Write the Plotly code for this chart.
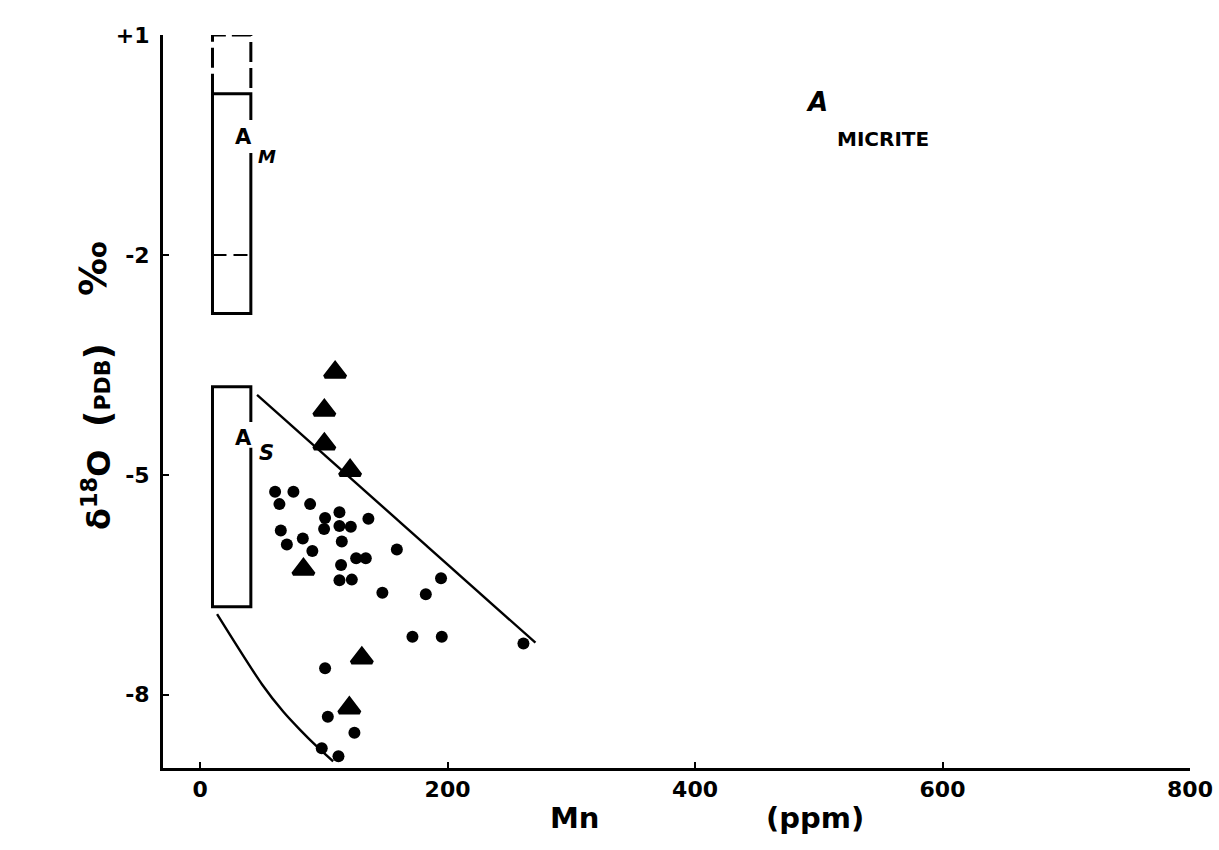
import plotly.graph_objects as go

# ---------------- data ----------------
circle_mn = [60.6, 75.4, 64.1, 88.9, 101.0, 112.6, 100.2, 112.6, 121.8, 136.0,
             65.2, 83.0, 70.1, 114.5, 90.7, 159.0, 126.1, 133.9, 113.9, 112.6,
             122.6, 147.3, 194.7, 182.4, 171.6, 195.3, 261.3, 101.0, 103.2,
             124.7, 98.3, 111.8]
circle_d18o = [-5.23, -5.23, -5.40, -5.40, -5.59, -5.51, -5.74, -5.70, -5.71, -5.60,
               -5.76, -5.87, -5.95, -5.91, -6.04, -6.02, -6.14, -6.14, -6.23, -6.44,
               -6.43, -6.61, -6.41, -6.63, -7.21, -7.21, -7.30, -7.64, -8.30,
               -8.52, -8.73, -8.84]

tri_mn = [109.1, 100.4, 100.4, 121.2, 83.5, 130.7, 120.6]
tri_d18o = [-3.60, -4.12, -4.58, -4.94, -6.29, -7.50, -8.18]

upper_line_mn = [46.0, 271.0]
upper_line_d18o = [-3.91, -7.29]

lower_curve_mn = [13.7, 50.1, 67.1, 80.8, 94.5, 107.5]
lower_curve_d18o = [-6.90, -7.86, -8.23, -8.48, -8.71, -8.91]

box_mn = [10, 41]                 # left / right edge of both boxes
am_box = [0.2, -2.8]              # A_M solid box top / bottom
am_dashed_top = 1.0               # dashed extension top
am_gap = [-0.16, -0.61]           # gap in right edge for label
am_mid_dash = -2.0                # dashed line across A_M
as_box = [-3.8, -6.8]             # A_S box top / bottom
as_gap = [-4.28, -4.63]

x_ticks = [0, 200, 400, 600, 800]
y_ticks = [1, -2, -5, -8]
y_ticktext = ["+1", "-2", "-5", "-8"]
x_range = [-30, 800]
y_range = [-9, 1]

FONT = "DejaVu Sans"

fig = go.Figure()


def box_path(x0, x1, top, bottom, gap_hi, gap_lo):
    xs = [x1, x1, x0, x0, x1, x1]
    ys = [gap_hi, top, top, bottom, bottom, gap_lo]
    return xs, ys


# A_M solid box
xs, ys = box_path(box_mn[0], box_mn[1], am_box[0], am_box[1], am_gap[0], am_gap[1])
fig.add_trace(go.Scatter(x=xs, y=ys, mode="lines",
                         line=dict(color="black", width=3), hoverinfo="skip"))
# A_M dashed extension
fig.add_trace(go.Scatter(x=[box_mn[0], box_mn[0], box_mn[1], box_mn[1]],
                         y=[am_box[0], am_dashed_top, am_dashed_top, am_box[0]],
                         mode="lines",
                         line=dict(color="black", width=3, dash="20px,6px"),
                         hoverinfo="skip"))
# dashed line at -2 inside A_M
fig.add_trace(go.Scatter(x=box_mn, y=[am_mid_dash, am_mid_dash], mode="lines",
                         line=dict(color="black", width=2, dash="14px,7px"),
                         hoverinfo="skip"))
# A_S box
xs, ys = box_path(box_mn[0], box_mn[1], as_box[0], as_box[1], as_gap[0], as_gap[1])
fig.add_trace(go.Scatter(x=xs, y=ys, mode="lines",
                         line=dict(color="black", width=3), hoverinfo="skip"))

# envelope lines
fig.add_trace(go.Scatter(x=upper_line_mn, y=upper_line_d18o, mode="lines",
                         line=dict(color="black", width=2.4), hoverinfo="skip"))
fig.add_trace(go.Scatter(x=lower_curve_mn, y=lower_curve_d18o, mode="lines",
                         line=dict(color="black", width=2.4, shape="spline",
                                   smoothing=0.8),
                         hoverinfo="skip"))

# data points
fig.add_trace(go.Scatter(x=circle_mn, y=circle_d18o, mode="markers",
                         marker=dict(symbol="circle", size=12, color="black",
                                     line=dict(width=0))))
fig.add_trace(go.Scatter(x=tri_mn, y=tri_d18o, mode="markers",
                         marker=dict(symbol="triangle-up", size=18, color="black",
                                     line=dict(width=4, color="black"))))


# box labels
def ann(x, y, text, size, italic=False, xref="x", yref="y", angle=0):
    fig.add_annotation(x=x, y=y, xref=xref, yref=yref, text=text, showarrow=False,
                       xanchor="center", yanchor="middle", textangle=angle,
                       font=dict(family=FONT, size=size, color="black", weight="bold",
                                 style="italic" if italic else "normal"))


ann(34.7, -0.39, "A", 21)
ann(54.0, -0.66, "M", 18, italic=True)
ann(34.7, -4.50, "A", 21)
ann(54.0, -4.70, "S", 21, italic=True)


# panel label
def px2paper(px, py):
    return (px - 163) / 1027, (768 - py) / 733


x, y = px2paper(817, 102)
ann(x, y, "A", 26, italic=True, xref="paper", yref="paper")
x, y = px2paper(883, 139)
ann(x, y, "MICRITE", 20, xref="paper", yref="paper")

# axis titles
x, y = px2paper(575, 818)
ann(x, y, "Mn", 29, xref="paper", yref="paper")
x, y = px2paper(815, 818)
ann(x, y, "(ppm)", 29, xref="paper", yref="paper")
x, y = px2paper(97, 490)
ann(x, y, "δ<sup>18</sup>O", 32, xref="paper", yref="paper", angle=-90)
x, y = px2paper(98, 385)
ann(x, y, "<span style='font-size:36px'>(</span>PDB<span style='font-size:36px'>)</span>",
    22, xref="paper", yref="paper", angle=-90)
x, y = px2paper(93, 269)
ann(x, y, "‰", 38, xref="paper", yref="paper", angle=-90)

axis_font = dict(family=FONT, size=22, color="black", weight="bold")
fig.update_xaxes(range=x_range, tickvals=x_ticks, showline=True, linewidth=3,
                 linecolor="black", ticks="inside", ticklen=6, tickwidth=2,
                 tickcolor="black", showgrid=False, zeroline=False,
                 tickfont=axis_font, ticklabelstandoff=0)
fig.update_yaxes(range=y_range, tickvals=y_ticks, ticktext=y_ticktext, showline=True,
                 linewidth=3, linecolor="black", ticks="inside", ticklen=6,
                 tickwidth=2, tickcolor="black", showgrid=False, zeroline=False,
                 tickfont=axis_font, ticklabelstandoff=6)

fig.update_layout(template="none", width=1219, height=850, showlegend=False,
                  margin=dict(l=163, r=29, t=35, b=82),
                  plot_bgcolor="white", paper_bgcolor="white")

fig.write_html("out.html")
